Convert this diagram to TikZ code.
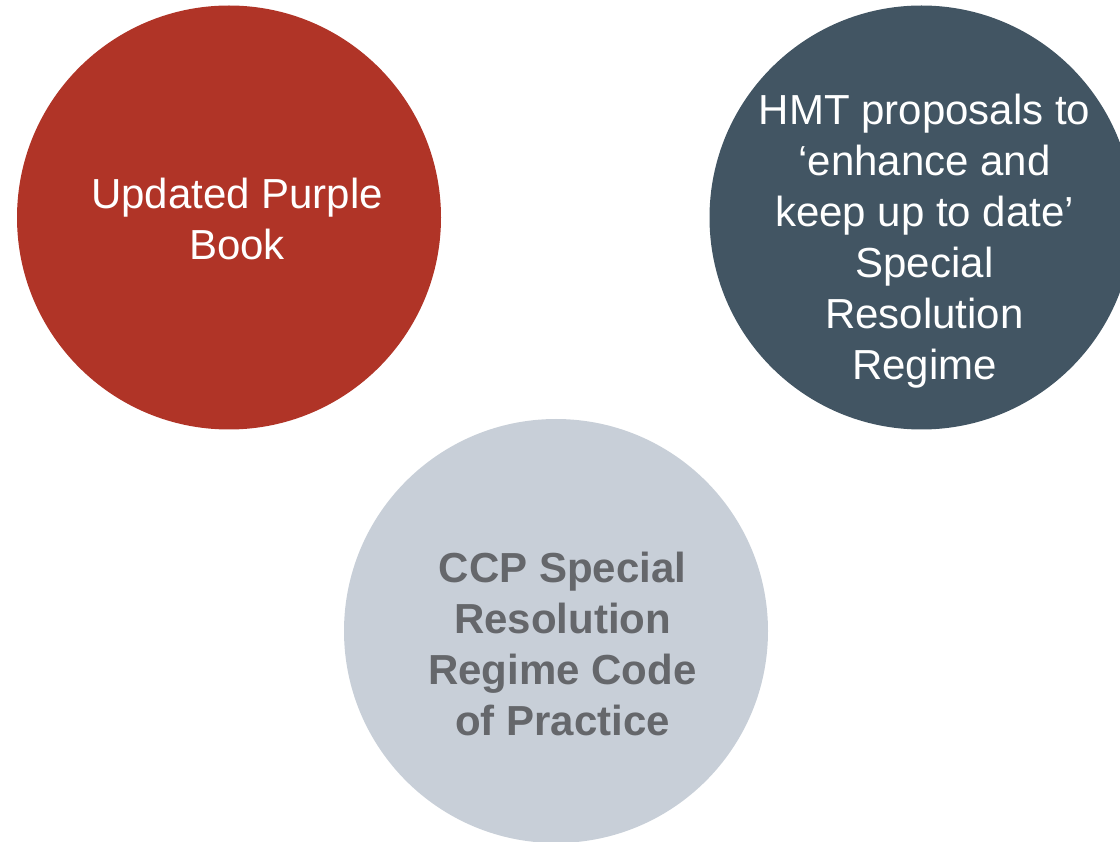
\documentclass[tikz,border=0pt]{standalone}
\usepackage{fontspec}
\setmainfont{Liberation Sans}
\definecolor{brick}{HTML}{B03427}
\definecolor{slate}{HTML}{425563}
\definecolor{mist}{HTML}{C8CFD8}
\definecolor{ink}{HTML}{65676B}
\begin{document}
\begin{tikzpicture}[x=1pt,y=-1pt,
  disc/.style={circle,minimum size=424pt,inner sep=0pt,draw=none},
  caption/.style={align=center,font=\fontsize{42}{51}\selectfont,inner sep=0pt}]
\useasboundingbox (0,0) rectangle (1120,842);
% the three discs
\node[disc,fill=brick] (purple) at (229,217.5) {};
\node[disc,fill=slate] (hmt) at (921.5,217.5) {};
\node[disc,fill=mist] (ccp) at (556,631) {};
% their captions
\node[caption,text=white] (purpletxt) at (237,218.5) {Updated Purple\\Book};
\node[caption,text=white] (hmttxt) at (924.5,241) {HMT proposals to\\‘enhance and\\keep up to date’\\Special\\Resolution\\Regime};
\node[caption,text=ink,font=\fontsize{42}{51}\selectfont\bfseries] (ccptxt) at (562.5,644) {CCP Special\\Resolution\\Regime Code\\of Practice};
\end{tikzpicture}
\end{document}
